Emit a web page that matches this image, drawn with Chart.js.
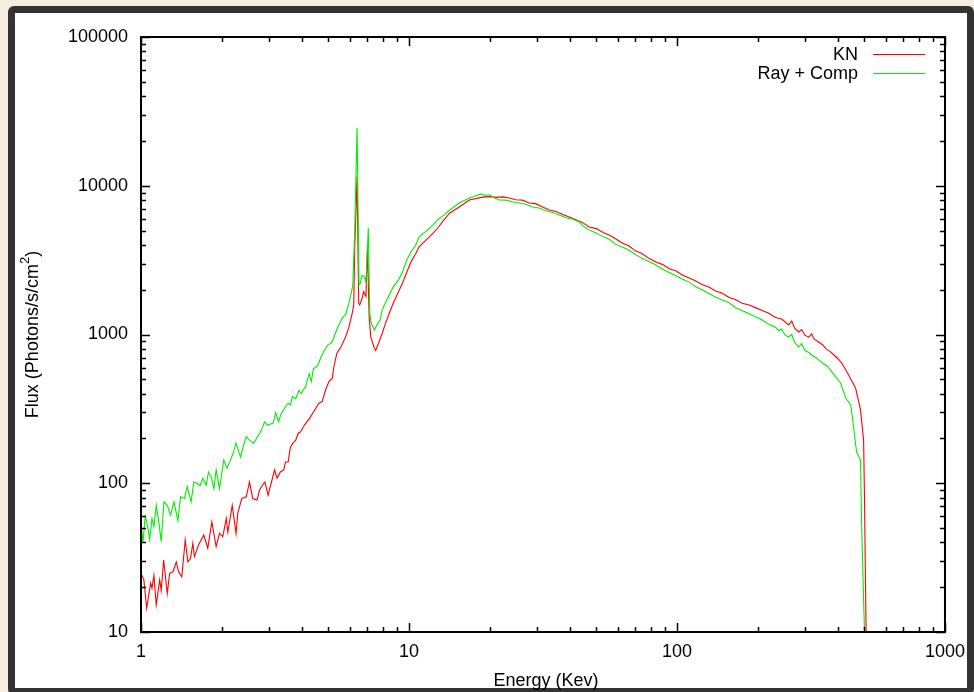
<!DOCTYPE html>
<html>
<head>
<meta charset="utf-8">
<script src="https://cdn.jsdelivr.net/npm/chart.js@4.4.1/dist/chart.umd.min.js"></script>
<style>
  html, body { margin: 0; padding: 0; background: #f5eee0; }
  body { width: 974px; height: 692px; position: relative; overflow: hidden; }
  #frame { position: absolute; left: 8px; top: 6px; width: 952px; height: 675px;
           border: 7px solid #333; border-radius: 6px; background: #fff; }
  #plot { position: absolute; left: 0; top: 0; }
</style>
</head>
<body>
<div id="frame"></div>
<canvas id="plot" width="974" height="692"></canvas>
<script>
// Axis ticks
const xTickValues = [1, 10, 100, 1000];
const yTickValues = [10, 100, 1000, 10000, 100000];

// KN (red) - energy in keV, flux in photons/s/cm2
const knEnergy = [
  1.00, 1.009, 1.025, 1.05, 1.07, 1.087, 1.099, 1.117, 1.14, 1.174, 1.19, 1.215, 1.253, 1.279, 1.316,
  1.354, 1.381, 1.42, 1.462, 1.496, 1.53, 1.561, 1.583, 1.639, 1.715, 1.775, 1.838, 1.907, 1.963, 2.02,
  2.08, 2.108, 2.19, 2.263, 2.297, 2.378, 2.47, 2.54, 2.61, 2.71, 2.77, 2.87, 2.90, 2.98, 3.06,
  3.15, 3.22, 3.31, 3.41, 3.46, 3.54, 3.61, 3.69, 3.78, 3.86, 3.94, 4.08, 4.26, 4.45, 4.61,
  4.74, 4.88, 5.03, 5.18, 5.23, 5.38, 5.58, 5.80, 5.97, 6.15, 6.22, 6.27, 6.40, 6.49, 6.55,
  6.68, 6.77, 6.91, 7.00, 7.10, 7.20, 7.43, 7.51, 7.70, 7.94, 8.16, 8.44, 8.74, 9.14, 9.46,
  9.80, 10.18, 10.6, 10.92, 11.6, 12.3, 12.8, 13.5, 14.2, 15.4, 16.8, 18.8, 20.0, 21.2, 22.4,
  23.7, 25.0, 26.5, 28.1, 29.7, 31.5, 33.4, 35.4, 37.5, 39.6, 42.0, 44.5, 47.0, 50.0, 53.0,
  56.0, 59.0, 62.4, 66.0, 70.0, 74.0, 78.5, 83.5, 88.5, 94.0, 99.0, 105, 111, 117, 124,
  132, 139, 147, 156, 165, 175, 186, 197, 208, 220, 233, 246, 261, 268, 275,
  285, 292, 300, 310, 318, 325, 338, 350, 360, 372, 385, 398, 412, 437, 464,
  484, 497, 501, 505, 508
];
const knFlux = [
  24, 24, 22.4, 14.4, 18, 21.3, 19.7, 24, 15.2, 22.4, 19.1, 30.5, 18.2, 24.8, 25.4,
  29.6, 25.4, 23.5, 41.6, 29.6, 31.2, 39.5, 32.1, 38.5, 44.9, 36.6, 55, 37.5, 46, 43.8,
  58, 47, 71, 46, 63, 79, 81, 102, 79, 77, 90, 100, 102, 83, 100,
  123, 108, 119, 123, 139, 139, 175, 186, 195, 217, 222, 247, 274, 311, 345,
  354, 422, 484, 510, 591, 749, 827, 964, 1120, 1410, 1580, 3700, 11500, 1630, 1580,
  1750, 1940, 1800, 3900, 1320, 964, 805, 780, 874, 1015, 1180, 1390, 1630, 1940, 2220,
  2600, 3080, 3500, 3900, 4330, 4800, 5200, 5900, 6560, 7200, 8020, 8390, 8450, 8350, 8420,
  8270, 8050, 8000, 7650, 7580, 7200, 6870, 6720, 6400, 6170, 5900, 5650, 5280, 5150, 4850,
  4650, 4400, 4120, 3950, 3650, 3500, 3250, 3070, 2950, 2760, 2680, 2500, 2400, 2300, 2170,
  2080, 1960, 1900, 1780, 1720, 1620, 1580, 1510, 1450, 1390, 1300, 1270, 1160, 1230, 1100,
  1040, 1080, 990, 960, 1010, 930, 891, 850, 800, 770, 728, 690, 643, 535, 436,
  311, 195, 77, 21, 10
];

// Ray + Comp (green)
const rcEnergy = [
  1.00, 1.017, 1.037, 1.057, 1.077, 1.099, 1.117, 1.14, 1.165, 1.19, 1.218, 1.253, 1.29, 1.327, 1.373,
  1.405, 1.453, 1.487, 1.538, 1.575, 1.622, 1.66, 1.70, 1.75, 1.786, 1.83, 1.871, 1.907, 1.963, 2.036,
  2.095, 2.157, 2.21, 2.263, 2.351, 2.41, 2.47, 2.54, 2.632, 2.72, 2.81, 2.89, 2.97, 3.04, 3.11,
  3.18, 3.26, 3.34, 3.40, 3.46, 3.54, 3.61, 3.67, 3.78, 3.89, 3.96, 4.02, 4.11, 4.24, 4.32,
  4.40, 4.48, 4.57, 4.70, 4.84, 4.98, 5.13, 5.23, 5.38, 5.48, 5.63, 5.80, 5.97, 6.09, 6.17,
  6.27, 6.40, 6.51, 6.58, 6.68, 6.82, 6.91, 7.05, 7.14, 7.22, 7.43, 7.63, 7.80, 7.94, 8.16,
  8.44, 8.74, 9.14, 9.46, 9.80, 10.18, 10.6, 10.92, 11.6, 12.3, 12.8, 13.5, 14.2, 15.4, 16.8,
  17.6, 18.6, 19.3, 19.9, 20.8, 21.7, 23.0, 24.3, 25.8, 27.3, 28.9, 30.6, 32.4, 34.4, 36.4,
  38.6, 40.9, 43.2, 45.0, 47.0, 49.9, 53.0, 56.0, 59.0, 62.4, 66.0, 70.0, 74.0, 78.5, 83.5,
  88.5, 94.0, 99.0, 105, 111, 117, 124, 132, 139, 147, 156, 165, 175, 186, 197,
  208, 220, 233, 240, 246, 253, 261, 268, 275, 285, 292, 300, 310, 320, 330,
  338, 350, 365, 378, 408, 426, 445, 456, 468, 484, 488, 497, 501
];
const rcFlux = [
  55, 40, 60, 52, 42, 58, 51, 71, 55, 40.5, 75, 71, 61, 75, 56,
  81, 79, 95, 75, 102, 100, 96, 108, 97, 119, 110, 92, 123, 92, 143,
  126, 143, 160, 186, 150, 178, 205, 195, 186, 205, 225, 259, 245, 250, 253,
  299, 259, 296, 310, 327, 345, 336, 382, 372, 422, 400, 422, 444, 545, 484,
  591, 600, 620, 708, 787, 852, 874, 944, 1085, 1160, 1290, 1360, 1630, 1900, 2150,
  4800, 24500, 2150, 2200, 2500, 2440, 2250, 5200, 1390, 1200, 1070, 1180, 1250, 1460, 1630,
  1840, 2100, 2330, 2630, 3160, 3600, 4000, 4560, 4950, 5460, 5910, 6350, 6870, 7650, 8270,
  8500, 8810, 8600, 8700, 8300, 8020, 8000, 7800, 7650, 7500, 7200, 7080, 6800, 6600, 6360,
  6100, 5950, 5710, 5300, 5050, 4810, 4550, 4350, 4050, 3870, 3700, 3450, 3250, 3100, 2930,
  2750, 2600, 2480, 2350, 2250, 2100, 2000, 1880, 1790, 1710, 1640, 1520, 1450, 1380, 1310,
  1250, 1170, 1120, 1060, 1090, 990, 962, 1000, 880, 824, 870, 780, 760, 720, 700,
  675, 640, 610, 560, 472, 374, 336, 239, 162, 143, 59, 16.4, 10
];

function toPoints(xs, ys) {
  return xs.map((x, i) => ({ x: x, y: ys[i] }));
}

const FONT = "'Liberation Sans', Arial, Helvetica, sans-serif";

// gnuplot style frame: border, inward ticks on all sides, legend, titles
const gnuplotFrame = {
  id: 'gnuplotFrame',
  afterDraw(chart) {
    const ctx = chart.ctx;
    const area = chart.chartArea;
    const xs = chart.scales.x;
    const ys = chart.scales.y;
    ctx.save();
    ctx.strokeStyle = '#000';
    ctx.lineWidth = 1.5;

    // ticks
    const major = 9, minor = 5;
    ctx.beginPath();
    for (let d = 0; d < xTickValues.length; d++) {
      const base = xTickValues[d];
      for (let m = 1; m <= 9; m++) {
        const v = base * m;
        if (v > xTickValues[xTickValues.length - 1]) break;
        const px = Math.round(xs.getPixelForValue(v)) + 0.5;
        const len = m === 1 ? major : minor;
        ctx.moveTo(px, area.bottom); ctx.lineTo(px, area.bottom - len);
        ctx.moveTo(px, area.top); ctx.lineTo(px, area.top + len);
      }
    }
    for (let d = 0; d < yTickValues.length; d++) {
      const base = yTickValues[d];
      for (let m = 1; m <= 9; m++) {
        const v = base * m;
        if (v > yTickValues[yTickValues.length - 1]) break;
        const py = Math.round(ys.getPixelForValue(v)) + 0.5;
        const len = m === 1 ? major : minor;
        ctx.moveTo(area.left, py); ctx.lineTo(area.left + len, py);
        ctx.moveTo(area.right, py); ctx.lineTo(area.right - len, py);
      }
    }
    ctx.stroke();

    // border
    ctx.lineWidth = 2;
    ctx.strokeRect(area.left, area.top, area.right - area.left, area.bottom - area.top);

    // legend
    ctx.font = '18px ' + FONT;
    ctx.fillStyle = '#000';
    ctx.textAlign = 'right';
    ctx.textBaseline = 'middle';
    ctx.lineWidth = 1;
    chart.data.datasets.forEach((ds, i) => {
      const y = 54 + i * 19;
      ctx.fillText(ds.label, 858, y + 1);
      ctx.strokeStyle = ds.borderColor;
      ctx.beginPath();
      ctx.moveTo(873, y + 0.5);
      ctx.lineTo(925, y + 0.5);
      ctx.stroke();
    });

    // x title
    ctx.textAlign = 'center';
    ctx.fillText('Energy (Kev)', 546, 681);

    // y title with superscript
    const main = 'Flux (Photons/s/cm';
    const sup = '2';
    const tail = ')';
    ctx.font = '18px ' + FONT;
    const w1 = ctx.measureText(main).width;
    const w3 = ctx.measureText(tail).width;
    ctx.font = '13px ' + FONT;
    const w2 = ctx.measureText(sup).width;
    const total = w1 + w2 + w3;
    ctx.translate(33, (area.top + area.bottom) / 2);
    ctx.rotate(-Math.PI / 2);
    ctx.textAlign = 'left';
    ctx.font = '18px ' + FONT;
    ctx.fillText(main, -total / 2, 0);
    ctx.font = '13px ' + FONT;
    ctx.fillText(sup, -total / 2 + w1, -8);
    ctx.font = '18px ' + FONT;
    ctx.fillText(tail, -total / 2 + w1 + w2, 0);
    ctx.restore();
  }
};

Chart.defaults.font.family = FONT;
Chart.defaults.font.size = 18;
Chart.defaults.color = '#000';

new Chart(document.getElementById('plot'), {
  type: 'line',
  data: {
    datasets: [
      {
        label: 'KN',
        data: toPoints(knEnergy, knFlux),
        borderColor: '#ff0000',
        borderWidth: 1.1,
        pointRadius: 0,
        tension: 0,
        order: 2
      },
      {
        label: 'Ray + Comp',
        data: toPoints(rcEnergy, rcFlux),
        borderColor: '#00ee00',
        borderWidth: 1.1,
        pointRadius: 0,
        tension: 0,
        order: 1
      }
    ]
  },
  options: {
    responsive: false,
    animation: false,
    layout: { padding: { left: 0, top: 37, right: 28, bottom: 0 } },
    plugins: {
      legend: { display: false },
      tooltip: { enabled: false }
    },
    scales: {
      x: {
        type: 'logarithmic',
        min: 1,
        max: 1000,
        grid: { display: false, drawTicks: false },
        border: { display: false },
        afterBuildTicks: s => { s.ticks = xTickValues.map(v => ({ value: v })); },
        afterFit: s => { s.height = 60; },
        ticks: {
          padding: 9,
          maxRotation: 0,
          autoSkip: false,
          callback: v => String(v)
        }
      },
      y: {
        type: 'logarithmic',
        min: 10,
        max: 100000,
        grid: { display: false, drawTicks: false },
        border: { display: false },
        afterBuildTicks: s => { s.ticks = yTickValues.map(v => ({ value: v })); },
        afterFit: s => { s.width = 141; },
        ticks: {
          padding: 13,
          autoSkip: false,
          callback: v => String(v)
        }
      }
    }
  },
  plugins: [gnuplotFrame]
});
</script>
</body>
</html>
